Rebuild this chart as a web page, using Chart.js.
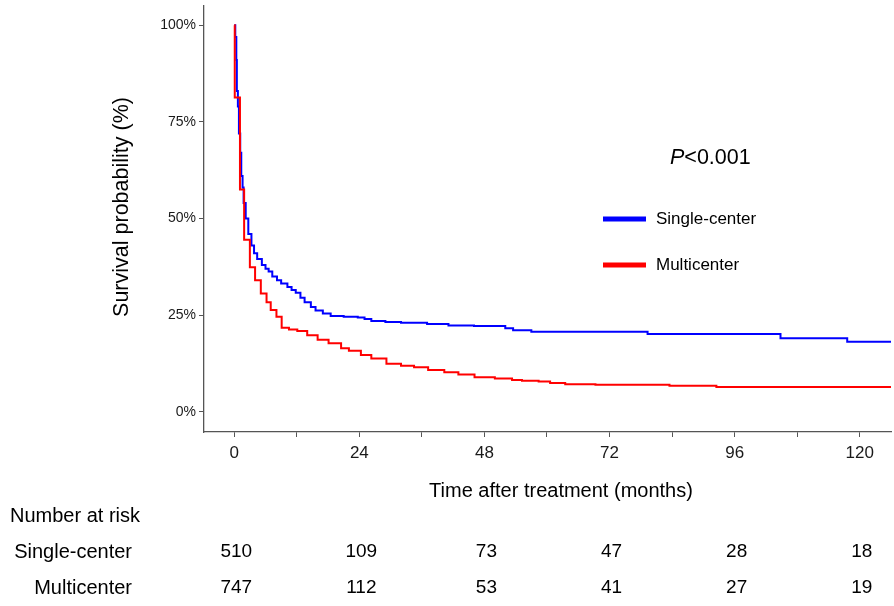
<!DOCTYPE html>
<html>
<head>
<meta charset="utf-8">
<script src="https://cdn.jsdelivr.net/npm/chart.js@4"></script>
<style>
  body { margin: 0; background: #fff; }
  #km { display: block; }
</style>
</head>
<body>
<canvas id="km" width="894" height="606"></canvas>
<script>
// Kaplan-Meier steps: [months, survival %]
const singleCenterSteps = [
    [0, 100], [0.2, 97], [0.4, 91], [0.5, 83], [0.7, 79], [0.9, 72], [1.15, 67],
    [1.35, 61], [1.6, 58], [1.8, 54], [2.2, 50], [2.7, 46], [3.3, 43], [3.8, 41],
    [4.4, 39.5], [5.3, 38], [6.0, 37], [6.6, 36.3], [7.3, 35], [8.2, 34], [9.0, 33.2],
    [10.2, 32.3], [11.0, 31.5], [11.8, 30.8], [12.7, 29.5], [13.5, 28.3], [14.7, 27.1],
    [15.6, 26.2], [17, 25.4], [18.5, 24.8], [21, 24.6], [23.7, 24.4], [25, 24.0],
    [26.3, 23.5], [29, 23.2], [32, 23.0], [37, 22.7], [41.1, 22.3], [46, 22.2],
    [52, 21.6], [53.5, 21.1], [57, 20.7], [79.3, 20.1], [104.8, 19.0], [117.6, 18.1],
    [126, 18.1]
];
const multicenterSteps = [
    [0, 100], [0.1, 81.3], [1.1, 57.5], [1.9, 44.5], [3.0, 37.4], [4.0, 34], [5.1, 30.6],
    [6.2, 28.3], [7.0, 26.3], [8.1, 24.6], [9.1, 21.7], [10.5, 21.3], [12.1, 20.9],
    [14.0, 19.8], [16.0, 18.6], [18.1, 17.7], [20.5, 16.4], [22, 15.8], [24.3, 14.7],
    [26.3, 13.8], [29.2, 12.4], [32.0, 11.9], [34.5, 11.5], [37.2, 10.8], [40.3, 10.2],
    [43, 9.6], [46.1, 8.9], [50, 8.6], [53.3, 8.2], [55.2, 8.0], [58.4, 7.8], [60.6, 7.4],
    [63.5, 7.1], [69.3, 7.0], [83.5, 6.7], [92.5, 6.4], [126, 6.4]
];

const groupNames = ['Single-center', 'Multicenter'];
const groupColors = ['#0000ff', '#ff0000'];

// Axis ticks
const xTicks = [0, 12, 24, 36, 48, 60, 72, 84, 96, 108, 120];
const yTicks = [0, 25, 50, 75, 100];

// Number at risk table
const riskTimes = [0, 24, 48, 72, 96, 120];
const riskSingleCenter = [510, 109, 73, 47, 28, 18];
const riskMulticenter = [747, 112, 53, 41, 27, 19];

const pValueText = '<0.001';
const FONT = "'Liberation Sans', Arial, sans-serif";

function toPoints(steps) {
    return steps.map(([x, y]) => ({ x, y }));
}

// Draws titles, legend, p-value and the risk table
const annotations = {
    id: 'annotations',
    beforeDraw(chart) {
        const ctx = chart.ctx;
        ctx.save();
        ctx.fillStyle = '#fff';
        ctx.fillRect(0, 0, chart.width, chart.height);
        ctx.restore();
    },
    afterDraw(chart) {
        const ctx = chart.ctx;
        const xs = chart.scales.x;
        ctx.save();
        ctx.fillStyle = '#000';
        ctx.textBaseline = 'middle';

        // axis titles
        ctx.font = `20px ${FONT}`;
        ctx.textAlign = 'center';
        ctx.fillText('Time after treatment (months)', 561, 491);
        ctx.font = `21.5px ${FONT}`;
        ctx.save();
        ctx.translate(122, 207);
        ctx.rotate(-Math.PI / 2);
        ctx.fillText('Survival probability (%)', 0, 0);
        ctx.restore();

        // p-value
        ctx.textAlign = 'left';
        ctx.font = `italic 21.5px ${FONT}`;
        ctx.fillText('P', 670, 158);
        const pw = ctx.measureText('P').width;
        ctx.font = `21.5px ${FONT}`;
        ctx.fillText(pValueText, 670 + pw, 158);

        // legend
        const legendY = [219, 265];
        groupNames.forEach((name, i) => {
            ctx.strokeStyle = groupColors[i];
            ctx.lineWidth = 5;
            ctx.beginPath();
            ctx.moveTo(603, legendY[i]);
            ctx.lineTo(646, legendY[i]);
            ctx.stroke();
            ctx.font = `17px ${FONT}`;
            ctx.fillStyle = '#000';
            ctx.fillText(name, 656, legendY[i]);
        });

        // risk table
        ctx.font = `20px ${FONT}`;
        ctx.textAlign = 'left';
        ctx.fillText('Number at risk', 10, 516);
        const rows = [riskSingleCenter, riskMulticenter];
        const rowY = [552, 588];
        rows.forEach((vals, r) => {
            ctx.font = `20px ${FONT}`;
            ctx.textAlign = 'right';
            ctx.fillText(groupNames[r], 132, rowY[r]);
            ctx.font = `19px ${FONT}`;
            ctx.textAlign = 'center';
            vals.forEach((v, i) => {
                ctx.fillText(String(v), xs.getPixelForValue(riskTimes[i]) + 2, rowY[r]);
            });
        });
        ctx.restore();
    }
};

new Chart(document.getElementById('km').getContext('2d'), {
    type: 'line',
    data: {
        datasets: [
            {
                label: groupNames[1],
                data: toPoints(multicenterSteps),
                borderColor: groupColors[1],
                borderWidth: 2,
                stepped: 'before',
                pointRadius: 0,
                fill: false
            },
            {
                label: groupNames[0],
                data: toPoints(singleCenterSteps),
                borderColor: groupColors[0],
                borderWidth: 2,
                stepped: 'before',
                pointRadius: 0,
                fill: false
            }
        ]
    },
    options: {
        responsive: false,
        animation: false,
        devicePixelRatio: 1,
        layout: { padding: { left: 144, right: 3, top: 6, bottom: 0 } },
        plugins: {
            legend: { display: false },
            tooltip: { enabled: false }
        },
        scales: {
            x: {
                type: 'linear',
                min: -5.8,
                max: 126,
                afterFit: s => { s.height = 174; s.paddingLeft = 0; s.paddingRight = 0; },
                afterBuildTicks: s => { s.ticks = xTicks.map(v => ({ value: v })); },
                border: { display: true, color: '#555', width: 1.3 },
                grid: { drawOnChartArea: false, drawTicks: true, tickLength: 5, color: '#555' },
                ticks: {
                    autoSkip: false,
                    maxRotation: 0,
                    padding: 6,
                    color: '#1a1a1a',
                    font: { family: FONT, size: 17 },
                    callback: v => (v % 24 === 0 ? String(v) : '')
                }
            },
            y: {
                type: 'linear',
                min: -5.25,
                max: 105,
                afterFit: s => { s.width = 60; s.paddingTop = 0; s.paddingBottom = 0; },
                afterBuildTicks: s => { s.ticks = yTicks.map(v => ({ value: v })); },
                border: { display: true, color: '#555', width: 1.3 },
                grid: { drawOnChartArea: false, drawTicks: true, tickLength: 5, color: '#555' },
                ticks: {
                    padding: 3,
                    color: '#1a1a1a',
                    font: { family: FONT, size: 14 },
                    callback: v => v + '%'
                }
            }
        }
    },
    plugins: [annotations]
});
</script>
</body>
</html>
